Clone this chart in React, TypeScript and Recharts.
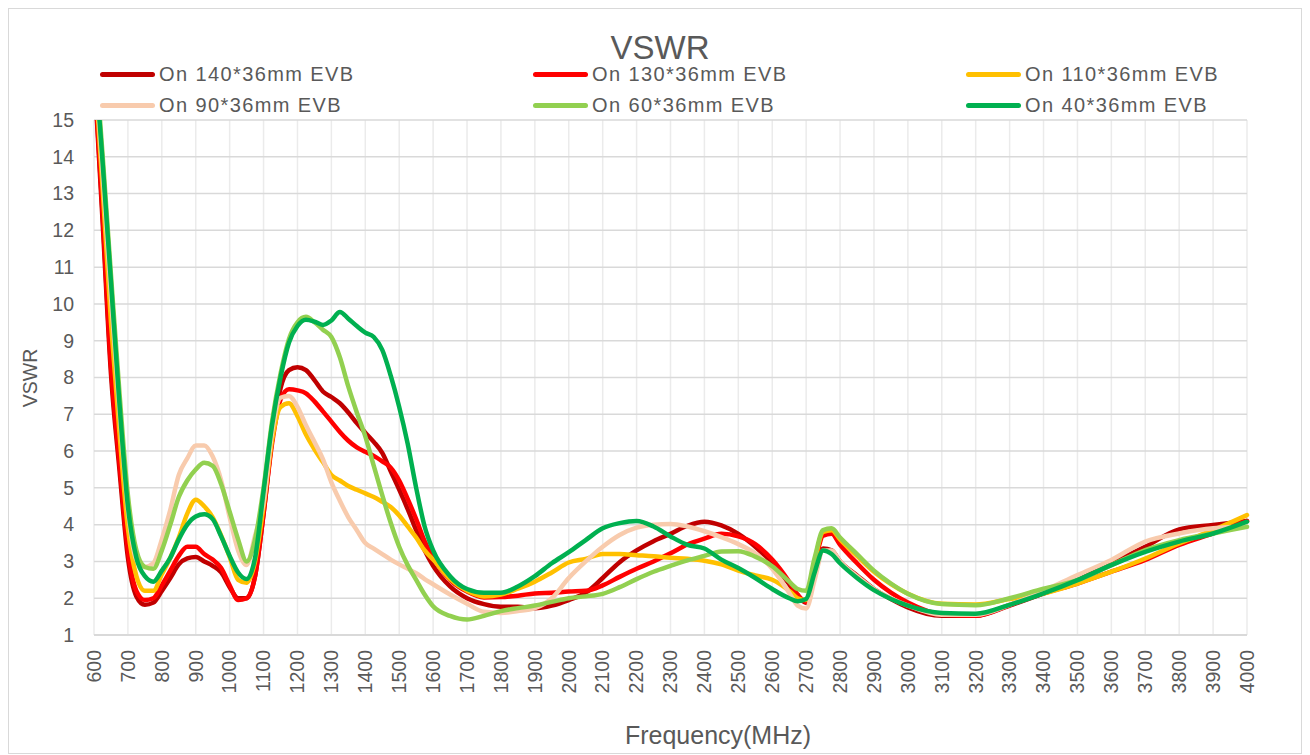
import React from 'react';
import { LineChart, Line, XAxis, YAxis, CartesianGrid } from 'recharts';

const FREQ = [
  600, 625, 650, 675, 700, 725, 750, 775, 800, 825, 850, 875, 900, 925, 950, 975,
  1000, 1025, 1050, 1075, 1100, 1125, 1150, 1175, 1200, 1225, 1250, 1275, 1300, 1325, 1350, 1375,
  1400, 1425, 1450, 1475, 1500, 1525, 1550, 1575, 1600, 1650, 1700, 1750, 1800, 1850, 1900, 1950,
  2000, 2050, 2100, 2150, 2200, 2250, 2300, 2350, 2400, 2450, 2500, 2550, 2600, 2650, 2675, 2700,
  2725, 2750, 2775, 2800, 2850, 2900, 2950, 3000, 3100, 3200, 3300, 3400, 3500, 3600, 3700, 3800,
  3900, 4000,
];

const V140 = [
  16.4, 12.3, 8.1, 5.5, 3.1, 2.05, 1.82, 1.88, 2.2, 2.55, 2.92, 3.08, 3.12, 3.0, 2.88, 2.7,
  2.3, 2.0, 2.0, 2.6, 4.3, 6.3, 7.7, 8.2, 8.28, 8.2, 7.93, 7.62, 7.47, 7.3, 7.05, 6.76,
  6.5, 6.25, 5.95, 5.45, 4.95, 4.42, 3.85, 3.3, 2.88, 2.32, 2.0, 1.84, 1.77, 1.77, 1.73, 1.8,
  1.95, 2.15, 2.55, 2.98, 3.3, 3.55, 3.75, 3.97, 4.08, 3.98, 3.75, 3.4, 2.95, 2.38, 2.05, 1.88,
  2.6, 3.35, 3.3, 3.0, 2.62, 2.25, 1.98, 1.75, 1.52, 1.52, 1.8, 2.13, 2.49, 2.95, 3.4, 3.87,
  3.99, 4.1,
];

const V130 = [
  16.5, 12.5, 8.3, 5.7, 3.3, 2.2, 1.95, 2.0, 2.35, 2.75, 3.15, 3.4, 3.4, 3.2, 3.05, 2.82,
  2.35, 1.95, 2.0, 2.6, 4.3, 6.2, 7.4, 7.68, 7.65, 7.57, 7.35, 7.08, 6.8, 6.52, 6.28, 6.1,
  5.98, 5.87, 5.72, 5.55, 5.2, 4.7, 4.15, 3.55, 3.1, 2.5, 2.18, 2.02, 2.03, 2.07, 2.13, 2.15,
  2.18, 2.2, 2.35, 2.58, 2.8, 3.0, 3.22, 3.46, 3.62, 3.75, 3.68, 3.47, 3.05, 2.45, 2.1, 1.9,
  2.9, 3.7, 3.75, 3.45, 2.95, 2.5, 2.15, 1.88, 1.56, 1.52, 1.82, 2.13, 2.4, 2.72, 3.04, 3.45,
  3.76, 4.1,
];

const V110 = [
  16.7, 13.2, 9.5, 6.5, 3.9, 2.6, 2.2, 2.2, 2.65, 3.1, 3.65, 4.3, 4.68, 4.5, 4.2, 3.7,
  3.12, 2.5, 2.42, 3.0, 4.5, 6.3, 7.2, 7.3, 6.95, 6.45, 6.05, 5.7, 5.35, 5.2, 5.05, 4.95,
  4.85, 4.75, 4.62, 4.48, 4.25, 3.95, 3.65, 3.3, 3.05, 2.52, 2.2, 2.05, 2.1, 2.26, 2.45, 2.7,
  2.97, 3.07, 3.2, 3.2, 3.17, 3.14, 3.1, 3.07, 3.02, 2.92, 2.75, 2.62, 2.5, 2.2, 2.0, 1.95,
  3.0, 3.8, 3.85, 3.6, 3.15, 2.72, 2.38, 2.12, 1.85, 1.83, 1.98, 2.13, 2.4, 2.72, 3.08, 3.49,
  3.85, 4.26,
];

const V90 = [
  16.9, 13.6, 10.2, 7.1, 4.4, 3.05, 2.85, 2.95, 3.6, 4.4, 5.35, 5.8, 6.15, 6.15, 5.85, 5.2,
  4.2, 3.3, 2.9, 3.7, 4.6, 6.5, 7.45, 7.5, 7.2, 6.7, 6.25, 5.78, 5.15, 4.65, 4.2, 3.85,
  3.5, 3.35, 3.2, 3.05, 2.92, 2.8, 2.68, 2.52, 2.38, 2.1, 1.85, 1.63, 1.6, 1.65, 1.73, 2.0,
  2.55, 3.0, 3.4, 3.72, 3.92, 4.0, 4.02, 3.95, 3.82, 3.66, 3.47, 3.22, 2.8, 2.15, 1.8, 1.72,
  2.5, 3.3, 3.3, 3.0, 2.6, 2.25, 2.0, 1.8, 1.55, 1.55, 1.82, 2.2, 2.63, 3.04, 3.54, 3.76,
  3.9, 3.94,
];

const V60 = [
  17.2, 14.1, 10.8, 7.6, 4.8, 3.3, 2.85, 2.8, 3.3, 4.0, 4.75, 5.2, 5.5, 5.68, 5.6, 5.1,
  4.35, 3.6, 3.0, 3.6, 5.0, 6.8, 8.1, 9.05, 9.5, 9.65, 9.5, 9.3, 9.1, 8.55, 7.75, 7.05,
  6.4, 5.6, 4.8, 4.05, 3.4, 2.9, 2.5, 2.1, 1.78, 1.52, 1.42, 1.52, 1.65, 1.73, 1.8, 1.9,
  2.0, 2.05, 2.12, 2.3, 2.52, 2.72, 2.88, 3.03, 3.15, 3.27, 3.28, 3.13, 2.87, 2.45, 2.25, 2.2,
  3.1, 3.85, 3.9, 3.65, 3.2, 2.75, 2.4, 2.12, 1.84, 1.81, 2.0, 2.26, 2.49, 2.9, 3.31, 3.58,
  3.76, 3.94,
];

const V40 = [
  17.0, 13.9, 10.6, 7.3, 4.5, 3.1, 2.6, 2.45, 2.75, 3.1, 3.6, 4.0, 4.22, 4.28, 4.15, 3.68,
  3.15, 2.7, 2.52, 3.1, 4.9, 6.7, 8.0, 8.95, 9.4, 9.57, 9.52, 9.43, 9.55, 9.78, 9.6, 9.4,
  9.22, 9.1, 8.75, 8.05, 7.2, 6.2, 5.0, 3.95, 3.3, 2.6, 2.25, 2.15, 2.15, 2.32, 2.6, 2.95,
  3.25, 3.58, 3.9, 4.04, 4.1, 3.95, 3.68, 3.45, 3.35, 3.05, 2.82, 2.55, 2.25, 2.0, 1.92, 1.98,
  2.7, 3.3, 3.2, 2.95, 2.55, 2.22, 1.98, 1.8, 1.6, 1.58, 1.82, 2.13, 2.49, 2.9, 3.26, 3.54,
  3.76, 4.08,
];

const SERIES = [
  { key: 's140', name: 'On 140*36mm EVB', color: '#C00000', values: V140 },
  { key: 's130', name: 'On 130*36mm EVB', color: '#FF0000', values: V130 },
  { key: 's110', name: 'On 110*36mm EVB', color: '#FFC000', values: V110 },
  { key: 's90', name: 'On 90*36mm EVB', color: '#F8CBAD', values: V90 },
  { key: 's60', name: 'On 60*36mm EVB', color: '#92D050', values: V60 },
  { key: 's40', name: 'On 40*36mm EVB', color: '#00B050', values: V40 },
];

const X_TICKS = [600, 700, 800, 900, 1000, 1100, 1200, 1300, 1400, 1500, 1600, 1700, 1800, 1900, 2000, 2100, 2200, 2300, 2400, 2500, 2600, 2700, 2800, 2900, 3000, 3100, 3200, 3300, 3400, 3500, 3600, 3700, 3800, 3900, 4000];
const Y_TICKS = [1, 2, 3, 4, 5, 6, 7, 8, 9, 10, 11, 12, 13, 14, 15];

const TITLE = 'VSWR';
const X_TITLE = 'Frequency(MHz)';
const Y_TITLE = 'VSWR';

const data = FREQ.map((f, i) => {
  const row: Record<string, number> = { f };
  SERIES.forEach((s) => {
    row[s.key] = s.values[i];
  });
  return row;
});

const FONT = '"Liberation Sans", Arial, sans-serif';
const TEXT = '#595959';

const XTick = (props: any) => {
  const { x, y, payload } = props;
  return (
    <text
      x={x}
      y={y}
      transform={`rotate(-90, ${x}, ${y})`}
      textAnchor="end"
      dy="0.35em"
      fill={TEXT}
      fontSize={19.5}
      fontFamily={FONT}
    >
      {payload.value}
    </text>
  );
};

const YTick = (props: any) => {
  const { x, y, payload } = props;
  return (
    <text x={x} y={y} textAnchor="end" dy="0.35em" fill={TEXT} fontSize={19.5} fontFamily={FONT}>
      {payload.value}
    </text>
  );
};

export default function App() {
  const legendCols = [91, 524, 957];
  const legendRows = [65, 96];
  return (
    <div
      style={{
        position: 'relative',
        width: 1294,
        height: 746,
        boxSizing: 'border-box',
        border: '1px solid #d9d9d9',
        background: '#fff',
        fontFamily: FONT,
        color: TEXT,
      }}
    >
      <div
        style={{
          position: 'absolute',
          left: 451,
          width: 400,
          top: 22,
          textAlign: 'center',
          fontSize: 33,
          lineHeight: '33px',
        }}
      >
        {TITLE}
      </div>
      {SERIES.map((s, i) => {
        const cx = legendCols[i % 3];
        const cy = legendRows[Math.floor(i / 3)];
        return (
          <React.Fragment key={s.key}>
            <div
              style={{
                position: 'absolute',
                left: cx,
                top: cy - 2.5,
                width: 55,
                height: 5,
                borderRadius: 2.5,
                background: s.color,
              }}
            />
            <div
              style={{
                position: 'absolute',
                left: cx + 59,
                top: cy - 10,
                fontSize: 20,
                lineHeight: '20px',
                letterSpacing: 1.4,
                whiteSpace: 'nowrap',
              }}
            >
              {s.name}
            </div>
          </React.Fragment>
        );
      })}
      <div
        style={{
          position: 'absolute',
          left: 21 - 50,
          top: 369 - 10,
          width: 100,
          height: 20,
          lineHeight: '20px',
          textAlign: 'center',
          fontSize: 19.5,
          transform: 'rotate(-90deg)',
        }}
      >
        {Y_TITLE}
      </div>
      <div
        style={{
          position: 'absolute',
          left: 709 - 200,
          top: 726 - 12.5,
          width: 400,
          lineHeight: '25px',
          textAlign: 'center',
          fontSize: 25,
        }}
      >
        {X_TITLE}
      </div>
      <LineChart
        width={1292}
        height={744}
        data={data}
        margin={{ top: 111, right: 54, left: 0, bottom: 0 }}
      >
        <CartesianGrid horizontal={false} vertical={true} stroke="#ebebeb" strokeWidth={1.5} />
        <CartesianGrid horizontal={true} vertical={false} stroke="#d9d9d9" strokeWidth={1.5} />
        <XAxis
          dataKey="f"
          type="number"
          domain={[600, 4000]}
          ticks={X_TICKS}
          interval={0}
          height={118}
          tickSize={0}
          tickMargin={15}
          tickLine={false}
          axisLine={{ stroke: '#d9d9d9', strokeWidth: 2 }}
          tick={<XTick />}
        />
        <YAxis
          type="number"
          domain={[1, 15]}
          ticks={Y_TICKS}
          interval={0}
          allowDataOverflow
          width={85}
          tickSize={0}
          tickMargin={20}
          tickLine={false}
          axisLine={false}
          tick={<YTick />}
        />
        {SERIES.map((s) => (
          <Line
            key={s.key}
            type="monotone"
            dataKey={s.key}
            name={s.name}
            stroke={s.color}
            strokeWidth={4.5}
            strokeLinejoin="round"
            strokeLinecap="round"
            dot={false}
            activeDot={false}
            isAnimationActive={false}
          />
        ))}
      </LineChart>
    </div>
  );
}
